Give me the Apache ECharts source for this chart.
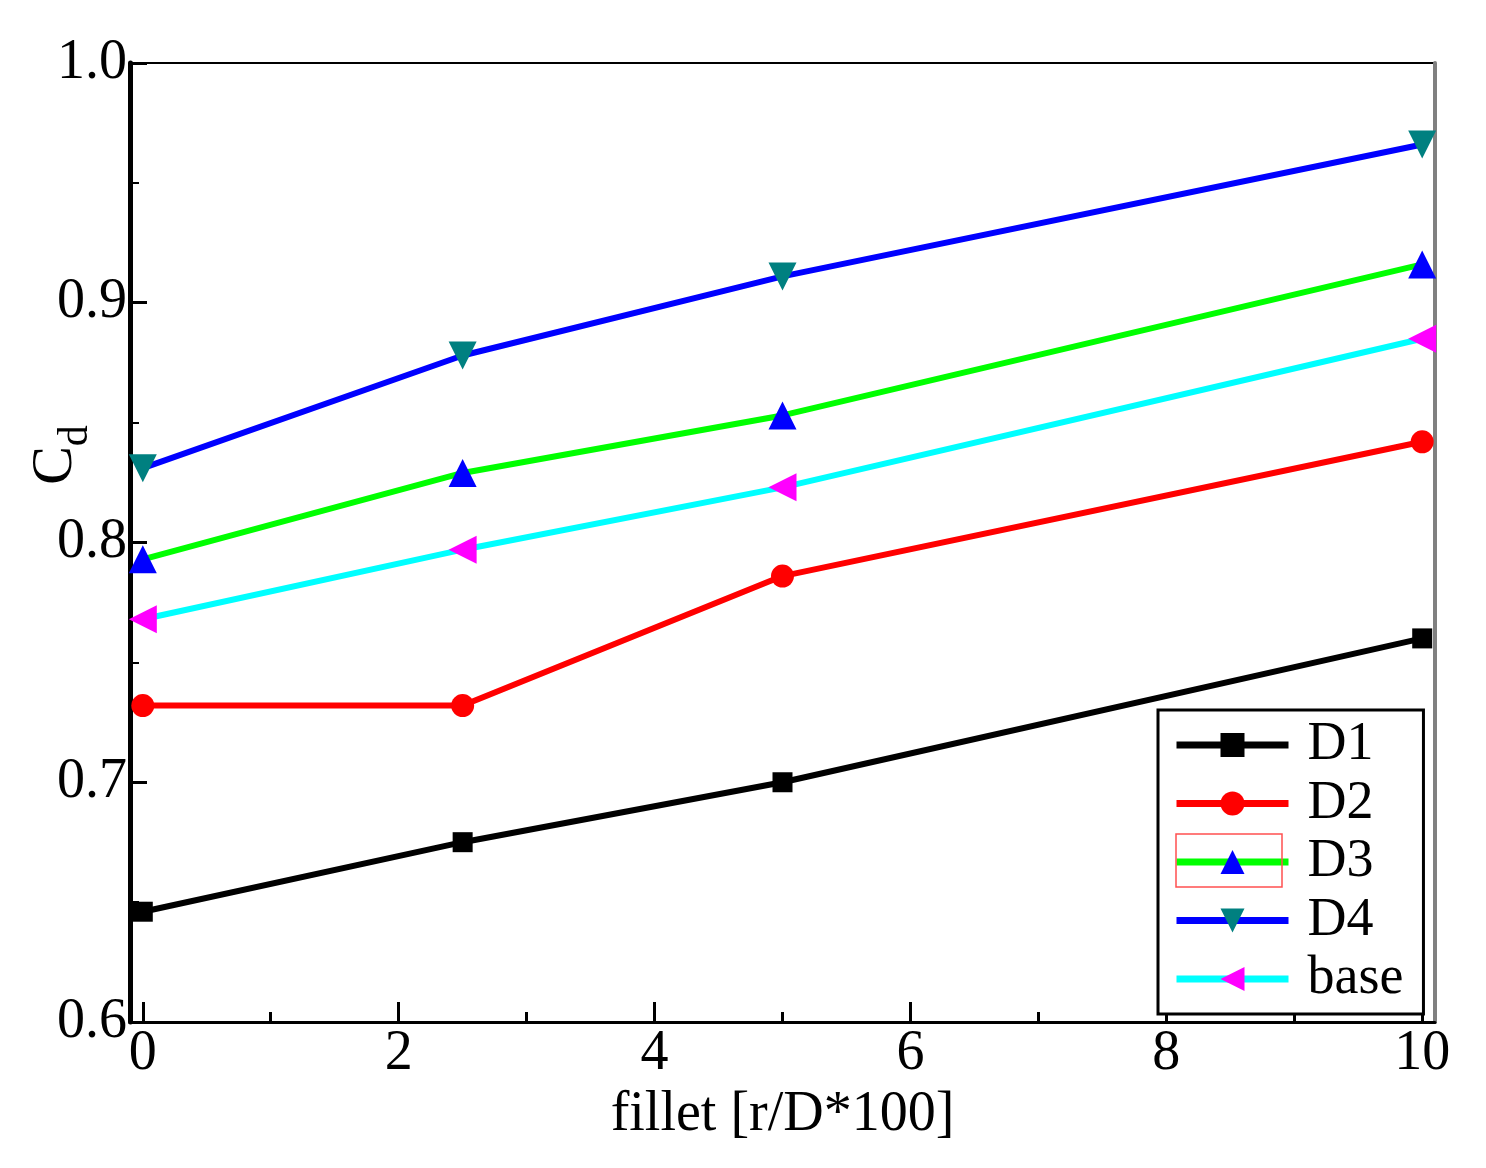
<!DOCTYPE html>
<html>
<head>
<meta charset="utf-8">
<script src="https://cdn.jsdelivr.net/npm/echarts@6/dist/echarts.min.js"></script>
<style>html,body{margin:0;padding:0;background:#fff}#chart{width:1486px;height:1168px}</style>
</head>
<body>
<div id="chart"></div>
<script>
// fillet radius r/D*100 and discharge coefficient per geometry
var fillet = [0, 2.5, 5, 10];
var d1 = [0.646, 0.675, 0.700, 0.760];
var d2 = [0.732, 0.732, 0.786, 0.842];
var d3 = [0.793, 0.829, 0.853, 0.916];
var d4 = [0.831, 0.878, 0.911, 0.966];
var base = [0.768, 0.797, 0.823, 0.885];
var xMajorTicks = [0, 2, 4, 6, 8, 10];
var xMinorTicks = [1, 3, 5, 7, 9];

var serif = "'Liberation Serif', 'Times New Roman', serif";

function pairs(ys) {
    return fillet.map(function (x, i) { return [x, ys[i]]; });
}

function makeSeries(name, values, lineColor, markColor, symbol, rotate, size) {
    return {
        name: name,
        type: 'line',
        data: pairs(values),
        symbol: symbol,
        symbolRotate: rotate,
        symbolSize: size,
        showAllSymbol: true,
        lineStyle: { color: lineColor, width: 6 },
        itemStyle: { color: markColor },
        emphasis: { disabled: true },
        animation: false
    };
}

var myChart = echarts.init(document.getElementById('chart'));
var option = {
    backgroundColor: '#fff',
    grid: {
        left: 130, right: 51, top: 63, bottom: 146,
        show: true, borderColor: '#000', borderWidth: 2
    },
    legend: {
        orient: 'vertical',
        left: 1158, top: 710,
        padding: [8, 20, 8, 15],
        itemWidth: 112, itemHeight: 30, itemGap: 4.5,
        borderColor: '#000', borderWidth: 3,
        backgroundColor: '#fff',
        lineStyle: { width: 7 },
        data: ['D1', 'D2', 'D3', 'D4', 'base'],
        textStyle: { fontFamily: serif, fontSize: 54, color: '#000', padding: [0, 0, 0, 14] }
    },
    xAxis: [
        {
            type: 'value', min: -0.1, max: 10.1,
            name: 'fillet [r/D*100]', nameLocation: 'middle', nameGap: 52,
            nameTextStyle: { fontFamily: serif, fontSize: 56, color: '#000' },
            axisLine: { onZero: false, lineStyle: { color: '#000', width: 3 } },
            axisTick: { inside: true, length: 20, customValues: xMajorTicks, lineStyle: { color: '#000', width: 3 } },
            axisLabel: { customValues: xMajorTicks, margin: 4, fontFamily: serif, fontSize: 56, color: '#000' },
            splitLine: { show: false }
        },
        {
            type: 'value', min: -0.1, max: 10.1, position: 'bottom',
            axisLine: { show: false, onZero: false },
            axisTick: { inside: true, length: 10, customValues: xMinorTicks, lineStyle: { color: '#000', width: 3 } },
            axisLabel: { show: false },
            splitLine: { show: false }
        }
    ],
    yAxis: [
        {
            type: 'value', min: 0.6, max: 1.0, interval: 0.1,
            axisLine: { show: true, onZero: false, lineStyle: { color: '#000', width: 5 } },
            axisTick: { inside: true, length: 17, lineStyle: { color: '#000', width: 3 } },
            minorTick: { show: true, splitNumber: 2, length: 9, lineStyle: { color: '#000', width: 2 } },
            axisLabel: {
                margin: 3, fontFamily: serif, fontSize: 56, color: '#000',
                formatter: function (v) { return v.toFixed(1); }
            },
            splitLine: { show: false }
        },
        {
            type: 'value', min: 0.6, max: 1.0, position: 'right',
            axisLine: { show: true, onZero: false, lineStyle: { color: '#808080', width: 4 } },
            axisTick: { show: false }, axisLabel: { show: false }, splitLine: { show: false }
        }
    ],
    graphic: [
        {
            type: 'text', x: 62, y: 455, rotation: Math.PI / 2,
            style: {
                text: '{c|C}{d|d}', align: 'center', verticalAlign: 'middle',
                rich: {
                    c: { fontFamily: serif, fontSize: 58, fill: '#000', lineHeight: 70, verticalAlign: 'top' },
                    d: { fontFamily: serif, fontSize: 42, fill: '#000', lineHeight: 70, verticalAlign: 'bottom' }
                }
            },
            z: 10
        },
        {
            type: 'rect', z: 20,
            shape: { x: 1176, y: 834, width: 106, height: 53 },
            style: { fill: 'none', stroke: '#ff5050', lineWidth: 1.5 }
        }
    ],
    series: [
        makeSeries('D1', d1, '#000000', '#000000', 'rect', 0, 20),
        makeSeries('D2', d2, '#ff0000', '#ff0000', 'circle', 0, 23),
        makeSeries('D3', d3, '#00ff00', '#0000ff', 'triangle', 0, 28),
        makeSeries('D4', d4, '#0000ff', '#008080', 'triangle', 180, 28),
        makeSeries('base', base, '#00ffff', '#ff00ff', 'triangle', 90, 28)
    ]
};
myChart.setOption(option);
</script>
</body>
</html>
